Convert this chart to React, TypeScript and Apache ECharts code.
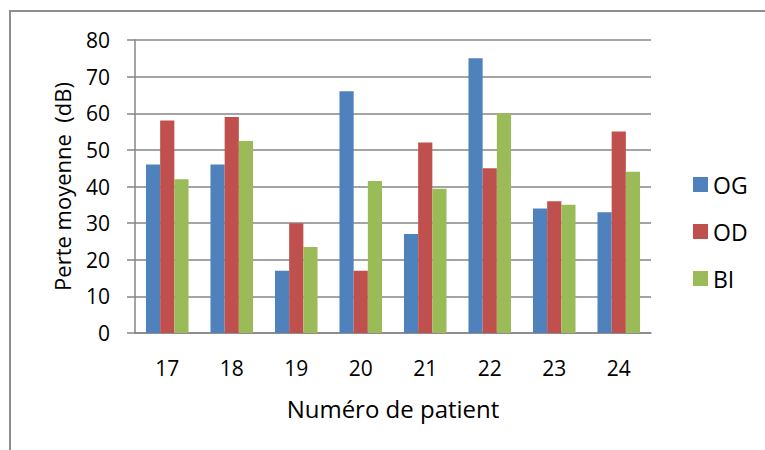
import React, { useEffect, useRef } from "react";
import * as echarts from "echarts";

const categories = ["17", "18", "19", "20", "21", "22", "23", "24"];
const seriesNames = ["OG", "OD", "BI"];
const ogValues = [46, 46, 17, 66, 27, 75, 34, 33];
const odValues = [58, 59, 30, 17, 52, 45, 36, 55];
const biValues = [42, 52.4, 23.5, 41.5, 39.4, 60, 35, 44];
const colors = ["#4F81BD", "#C0504D", "#9BBB59"];

const FONT = "'Open Sans', Lato, sans-serif";

export default function App() {
  const ref = useRef<HTMLDivElement>(null);
  useEffect(() => {
    if (!ref.current) return;
    const chart = echarts.init(ref.current, undefined, { renderer: "svg" });
    const data = [ogValues, odValues, biValues];
    chart.setOption({
      animation: false,
      backgroundColor: "#ffffff",
      textStyle: { fontFamily: FONT, color: "#000" },
      graphic: [
        {
          type: "rect",
          shape: { x: 10, y: 11, width: 800, height: 500 },
          style: { fill: "none", stroke: "#8e8e8e", lineWidth: 2 },
          silent: true,
        },
      ],
      grid: { left: 135, right: 114, top: 40, bottom: 117, containLabel: false },
      legend: {
        orient: "vertical",
        left: 693,
        top: 173,
        padding: 0,
        itemWidth: 15,
        itemHeight: 15,
        itemGap: 24,
        icon: "rect",
        textStyle: { fontFamily: FONT, fontSize: 23, color: "#000" },
        data: seriesNames,
      },
      xAxis: {
        type: "category",
        data: categories,
        name: "Numéro de patient",
        nameLocation: "middle",
        nameGap: 63,
        nameTextStyle: { fontFamily: FONT, fontSize: 24, color: "#000" },
        axisLine: { show: true, lineStyle: { color: "#868686", width: 1.5 } },
        axisTick: { show: false },
        axisLabel: { fontFamily: FONT, fontSize: 21, color: "#000", margin: 24 },
      },
      yAxis: {
        type: "value",
        min: 0,
        max: 80,
        interval: 10,
        name: "Perte moyenne  (dB)",
        nameLocation: "middle",
        nameGap: 62,
        nameRotate: 90,
        nameTextStyle: { fontFamily: FONT, fontSize: 22, color: "#000" },
        axisLine: { show: true, lineStyle: { color: "#868686", width: 1.5 } },
        axisTick: { show: true, inside: false, length: 8, lineStyle: { color: "#868686", width: 1.5 } },
        axisLabel: { fontFamily: FONT, fontSize: 21, color: "#000", margin: 25 },
        splitLine: { show: true, lineStyle: { color: "#868686", width: 1.5 } },
      },
      series: seriesNames.map((name, i) => ({
        name,
        type: "bar",
        data: data[i],
        barGap: "0%",
        barCategoryGap: "34%",
        itemStyle: { color: colors[i] },
      })),
    });
    return () => chart.dispose();
  }, []);
  return (
    <div
      ref={ref}
      style={{ position: "fixed", left: 0, top: 0, width: 765, height: 450 }}
    />
  );
}
